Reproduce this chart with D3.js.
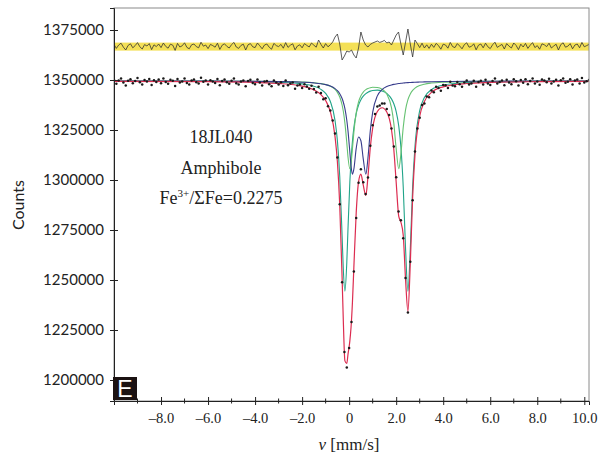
<!DOCTYPE html>
<html>
<head>
<meta charset="utf-8">
<script src="https://cdn.jsdelivr.net/npm/d3@7"></script>
<style>
  body { margin: 0; background: #fff; }
  svg { display: block; }
</style>
</head>
<body>
<div class="canvas"></div>
<script>
// velocity grid (mm/s) the fitted sub-spectra are sampled on
const velocity = [-10, -6, -4, -3, -2, -1.5, -1.2, -1.0, -0.8, -0.6, -0.5, -0.4, -0.3, -0.25, -0.18,
  -0.1, -0.05, 0.03, 0.08, 0.14, 0.2, 0.3, 0.4, 0.5, 0.6, 0.71, 0.8, 0.9, 1.0, 1.2,
  1.4, 1.6, 1.8, 1.9, 2.0, 2.11, 2.2, 2.3, 2.4, 2.5, 2.6, 2.7, 2.8, 3.0, 3.2,
  3.5, 4.0, 5.0, 6.0, 8.0, 10.2];

// absorption depth (counts below baseline) of each doublet
const tealDepth = [100, 180, 380, 660, 1450, 2610, 4180, 6210, 10230, 19780, 29810, 47740, 77330, 93650, 105080,
  90700, 74100, 50420, 39580, 30110, 23460, 16320, 12040, 9355, 7595, 6310, 5610, 5070, 4740, 4570,
  4990, 6220, 8940, 11400, 15280, 22560, 32880, 52930, 84220, 105080, 84140, 52750, 32620, 14820, 8250,
  4330, 2060, 820, 450, 200, 110];
const greenDepth = [30, 74, 154, 256, 521, 864, 1279, 1761, 2594, 4220, 5680, 8014, 12000, 15010, 21040,
  30930, 37870, 43900, 41350, 33850, 25740, 15940, 10430, 7330, 5530, 4330, 3743, 3342, 3142, 3240,
  4105, 6495, 13350, 21200, 33850, 43900, 36550, 23200, 14330, 9320, 6475, 4727, 3600, 2290, 1590,
  1026, 591, 277, 164, 77, 44];
const navyDepth = [31, 82, 174, 292, 592, 957, 1371, 1820, 2542, 3816, 4854, 6386, 8775, 10500, 13816,
  19624, 24800, 35600, 42360, 46620, 44110, 33690, 27970, 29890, 38935, 46620, 38470, 24800, 15695, 7444,
  4286, 2790, 1971, 1690, 1466, 1268, 1135, 1011, 906, 818, 740, 676, 617, 522, 448,
  363, 267, 162, 109, 59, 36];
const baseline = 1349500;

// measured spectrum, one value per channel from -10 mm/s in 0.1 steps
const channelStart = -10, channelStep = 0.1;
const counts = [
  1350100,1348100,1349800,1350700,1348700,1347300,1349600,1350400,1348400,1349500,
  1351000,1348900,1347800,1350000,1349300,1350500,1347500,1349900,1349000,1350300,
  1348400,1350700,1349000,1348100,1350100,1349600,1347000,1350500,1348700,1349300,
  1350800,1348500,1347800,1349800,1350200,1348900,1348300,1351100,1349100,1349700,
  1347800,1349900,1349300,1348500,1350500,1347400,1349500,1350200,1348900,1348100,
  1349600,1350700,1348400,1347700,1349200,1349800,1346900,1349500,1350100,1348500,
  1347900,1350200,1348800,1347300,1349200,1349500,1347900,1346900,1349800,1348700,
  1347800,1348900,1347000,1349800,1347400,1348200,1348800,1345600,1347300,1347700,
  1346000,1347900,1346700,1345600,1347100,1345500,1343800,1346600,1343500,1340400,
  1340900,1336900,1334700,1329800,1323200,1311200,1287900,1248900,1214000,1206200,
  1216000,1229000,1254200,1281000,1298600,1305400,1298900,1293000,1301200,1317100,
  1327400,1333000,1336800,1337300,1338300,1338300,1335500,1332500,1325700,1316700,
  1301400,1284200,1279900,1270900,1251000,1233800,1259100,1289900,1314200,1325700,
  1331100,1337500,1338200,1341800,1341400,1344700,1343900,1346600,1346000,1344600,
  1347500,1347400,1346000,1349100,1347200,1346900,1349000,1347900,1346600,1348800,
  1349800,1347800,1348200,1349600,1346600,1349000,1349600,1347700,1350100,1348300,
  1347500,1349500,1350800,1348200,1349000,1349700,1347400,1350100,1348800,1347900,
  1350400,1349400,1347300,1350000,1348600,1350400,1347900,1349500,1350800,1348300,
  1349300,1347600,1350300,1349800,1348900,1350600,1348200,1349200,1350100,1347200,
  1349900,1350800,1348600,1349100,1350400,1347800,1349700,1350200,1348300,1351000,
  1348800,1349400,1350000];

// residual (data - fit), drawn shifted up to residOffset
const residOffset = 1367000;
const resid = [
  800,-1200,500,1400,-600,-2000,300,1100,-900,200,1700,-400,-1500,700,0,1200,-1800,600,-300,1000,
  -800,1500,-200,-1100,900,400,-2200,1300,-500,100,1600,-700,-1400,600,1000,-300,-900,1900,-100,500,
  -1300,800,200,-600,1400,-1700,400,1100,-200,-1000,700,1800,-500,-1200,300,900,-2000,600,1200,-400,
  -800,1500,100,-1400,500,1000,-600,-1600,1300,200,-300,800,-1100,1700,-700,400,1100,-1900,0,600,
  -900,1200,300,-500,1500,
  400,-600,3000,800,-1000,1200,-400,600,2000,4500,6000,1000,-7000,-5000,-2500,-3000,-2000,-4500,-6000,-1000,
  7000,3000,500,-500,800,1500,2000,2500,1800,2200,2800,1500,2000,500,3000,5500,7000,1000,-4500,2000,
  8500,1000,-5500,3000,1200,-800,1400,-1000,600,-1200,900,
  -700,1300,200,-1600,900,500,-1100,1800,-300,-800,1200,0,-1400,700,1600,-600,-200,1100,-1900,400,
  1000,-900,1400,-400,-1300,600,1900,-700,100,800,-1500,1200,-100,-1000,1500,300,-1800,900,-500,1300,
  -1200,400,1700,-800,200,-1600,1100,600,-300,1400,-1000,0,900,-2000,700,1600,-600,-100,1200,-1400,
  500,1000,-900,1800,-400,200,800];
const residBand = [1364700, 1368700];

const yTicks = [1200000, 1225000, 1250000, 1275000, 1300000, 1325000, 1350000, 1375000];
const xTicks = [-8, -6, -4, -2, 0, 2, 4, 6, 8, 10];
const xMinor = [-9, -7, -5, -3, -1, 1, 3, 5, 7, 9];

let dim = { width: 599, height: 458 };
let box = { left: 114, right: 589, top: 8, bottom: 401 };

let svg = d3.select(".canvas").append("svg").attr("width", dim.width).attr("height", dim.height);

const x = d3.scaleLinear().domain([-10, 10.2]).range([box.left, box.right]);
const y = d3.scaleLinear().domain([1189500, 1386000]).range([box.bottom, box.top]);

svg.append("clipPath").attr("id", "plot").append("rect")
  .attr("x", box.left).attr("y", box.top)
  .attr("width", box.right - box.left).attr("height", box.bottom - box.top);

const graph = svg.append("g").attr("clip-path", "url(#plot)");

// residual band + residual
graph.append("rect")
  .attr("x", box.left).attr("width", box.right - box.left)
  .attr("y", y(residBand[1])).attr("height", y(residBand[0]) - y(residBand[1]))
  .attr("fill", "#f3dd45").attr("opacity", 0.9);

const chanV = i => channelStart + channelStep * i;

graph.append("path")
  .datum(resid)
  .attr("fill", "none").attr("stroke", "#333").attr("stroke-width", 0.8)
  .attr("d", d3.line().x((d, i) => x(chanV(i))).y(d => y(residOffset + d)));

// sub-spectra
const fitLine = d3.line().curve(d3.curveMonotoneX)
  .x((d, i) => x(velocity[i]))
  .y(d => y(baseline - d));

const comps = [
  { depth: tealDepth, color: "#21a489" },
  { depth: greenDepth, color: "#66c272" },
  { depth: navyDepth, color: "#383c8c" }
];
comps.forEach(c => {
  graph.append("path").datum(c.depth)
    .attr("fill", "none").attr("stroke", c.color).attr("stroke-width", 1.1)
    .attr("d", fitLine);
});

// total fit = sum of doublets
const totalDepth = velocity.map((v, i) => tealDepth[i] + greenDepth[i] + navyDepth[i]);
graph.append("path").datum(totalDepth)
  .attr("fill", "none").attr("stroke", "#dc2c50").attr("stroke-width", 1.2)
  .attr("d", fitLine);

// data points
graph.selectAll(".pt").data(counts).enter().append("circle")
  .attr("class", "pt")
  .attr("cx", (d, i) => x(chanV(i)))
  .attr("cy", d => y(d))
  .attr("r", 1.25)
  .attr("fill", "#1a1a1a");

// frame
svg.append("rect")
  .attr("x", box.left).attr("y", box.top)
  .attr("width", box.right - box.left).attr("height", box.bottom - box.top)
  .attr("fill", "none").attr("stroke", "#8a8a8a").attr("stroke-width", 1);

// y axis
const yAxis = svg.append("g").attr("transform", `translate(${box.left},0)`)
  .call(d3.axisLeft(y).tickValues(yTicks).tickFormat(d3.format("d")).tickSizeOuter(0).tickSize(4).tickPadding(6));
yAxis.select(".domain").attr("stroke", "#222");
yAxis.selectAll(".tick line").attr("x1", 4).attr("stroke", "#222");
yAxis.selectAll(".tick text")
  .attr("font-family", "Lato, 'Open Sans', sans-serif").attr("font-size", 15).attr("fill", "#222");

// x axis
const xAxis = svg.append("g").attr("transform", `translate(0,${box.bottom})`)
  .call(d3.axisBottom(x).tickValues(xTicks)
    .tickFormat(d => d === 0 ? "0" : d3.format(".1f")(d).replace("−", "–"))
    .tickSizeOuter(0).tickSize(4).tickPadding(8));
xAxis.select(".domain").attr("stroke", "#222");
xAxis.selectAll(".tick line").attr("y1", -4).attr("stroke", "#222");
xAxis.selectAll(".tick text")
  .attr("font-family", "'Liberation Serif', 'Times New Roman', serif").attr("font-size", 14.5).attr("fill", "#222");

svg.append("g").selectAll("line").data(xMinor).enter().append("line")
  .attr("x1", d => x(d)).attr("x2", d => x(d))
  .attr("y1", box.bottom - 2.5).attr("y2", box.bottom + 2.5)
  .attr("stroke", "#222");

// axis titles
svg.append("text")
  .attr("transform", "translate(24,205) rotate(-90)")
  .attr("text-anchor", "middle")
  .attr("font-family", "Lato, 'Open Sans', sans-serif").attr("font-size", 16).attr("fill", "#222")
  .text("Counts");

const xt = svg.append("text")
  .attr("x", 349).attr("y", 450).attr("text-anchor", "middle")
  .attr("font-family", "'Liberation Serif', serif").attr("font-size", 17).attr("fill", "#222");
xt.append("tspan").attr("font-style", "italic").text("v");
xt.append("tspan").text(" [mm/s]");

// sample annotation
const noteFont = "'Liberation Serif', 'Times New Roman', serif";
svg.append("text").attr("x", 221).attr("y", 143).attr("text-anchor", "middle")
  .attr("font-family", noteFont).attr("font-size", 18).attr("fill", "#222").text("18JL040");
svg.append("text").attr("x", 221).attr("y", 174).attr("text-anchor", "middle")
  .attr("font-family", noteFont).attr("font-size", 18).attr("fill", "#222").text("Amphibole");
const fe = svg.append("text").attr("x", 221).attr("y", 204).attr("text-anchor", "middle")
  .attr("font-family", noteFont).attr("font-size", 18).attr("fill", "#222");
fe.append("tspan").text("Fe");
fe.append("tspan").attr("font-size", 11).attr("dy", -7).text("3+");
fe.append("tspan").attr("dy", 7).text("/ΣFe=0.2275");

// panel letter
svg.append("rect").attr("x", 113).attr("y", 377).attr("width", 24).attr("height", 23).attr("fill", "#1b1212");
svg.append("text").attr("x", 125).attr("y", 397).attr("text-anchor", "middle")
  .attr("font-family", "'Liberation Sans', Arial, sans-serif").attr("font-size", 23).attr("fill", "#fff")
  .text("E");
</script>
</body>
</html>
